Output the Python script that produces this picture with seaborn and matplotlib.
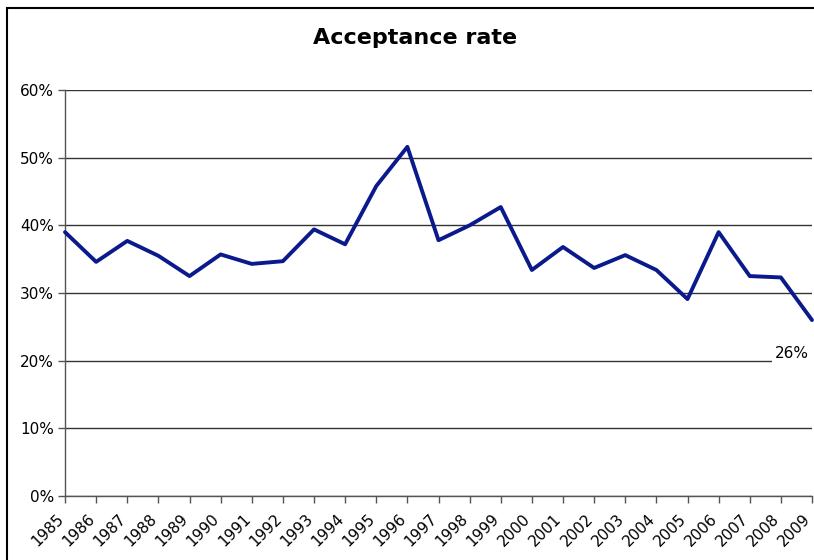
import matplotlib
matplotlib.use("Agg")
import matplotlib.pyplot as plt
import matplotlib.patches as mpatches
import matplotlib.transforms as mtransforms
from matplotlib.ticker import PercentFormatter
import seaborn as sns
import pandas as pd

# acceptance rate by year
years = list(range(1985, 2010))
rates = [39.0, 34.6, 37.7, 35.5, 32.5, 35.7, 34.3, 34.7, 39.4, 37.2,
         45.8, 51.6, 37.8, 40.0, 42.7, 33.4, 36.8, 33.7, 35.6, 33.4,
         29.1, 39.0, 32.5, 32.3, 26.0]
last_label = "26%"

df = pd.DataFrame({"Year": years, "Rate": rates})

sns.set_style("white")
plt.rcParams["font.family"] = ["DejaVu Sans"]
plt.rcParams["text.color"] = "black"
plt.rcParams["xtick.color"] = "black"
plt.rcParams["ytick.color"] = "black"

fig = plt.figure(figsize=(8.14, 5.6), dpi=100)
ax = fig.add_axes([65 / 814, 1 - 496 / 560, (812 - 65) / 814, (496 - 90) / 560])

sns.lineplot(data=df, x="Year", y="Rate", ax=ax, color="#0a1a8c",
             linewidth=2.8, clip_on=False, zorder=3)

# gridlines
ax.set_ylim(0, 60)
ax.set_xlim(years[0], years[-1])
ax.set_yticks(range(0, 61, 10))
ax.yaxis.set_major_formatter(PercentFormatter(decimals=0))
ax.grid(axis="y", color="#333333", linewidth=1)
ax.set_xticks(years)
ax.set_xticklabels([str(y) for y in years], rotation=45, ha="right",
                   rotation_mode="anchor")
ax.tick_params(axis="both", labelsize=11, direction="out", length=5,
               width=1, color="#555555", left=True, bottom=True, pad=3,
               labelcolor="black")
ax.tick_params(axis="x", pad=6)

# nudge the rotated year labels to the left like the reference
shift = mtransforms.ScaledTranslation(-9 / 100, 0, fig.dpi_scale_trans)
for lbl in ax.get_xticklabels():
    lbl.set_transform(lbl.get_transform() + shift)

for side in ["top", "right"]:
    ax.spines[side].set_visible(False)
for side in ["left", "bottom"]:
    ax.spines[side].set_color("#555555")
    ax.spines[side].set_linewidth(1)

ax.set_xlabel("")
ax.set_ylabel("")

# data label for the last point
ax.text(years[-1] - 0.1, 21, last_label, ha="right", va="center", fontsize=11,
        color="black", bbox=dict(facecolor="white", edgecolor="none", pad=2),
        zorder=4)

fig.text(0.51, 1 - 38 / 560, "Acceptance rate", ha="center", va="center",
         fontsize=16, fontweight="bold", color="black")

# chart area border
fig.patches.append(mpatches.Rectangle((7 / 814, -0.05), 1.0, 1 - 8 / 560 + 0.05,
                                      transform=fig.transFigure, fill=False,
                                      edgecolor="black", linewidth=1.5))

fig.savefig("out.png", dpi=100)
